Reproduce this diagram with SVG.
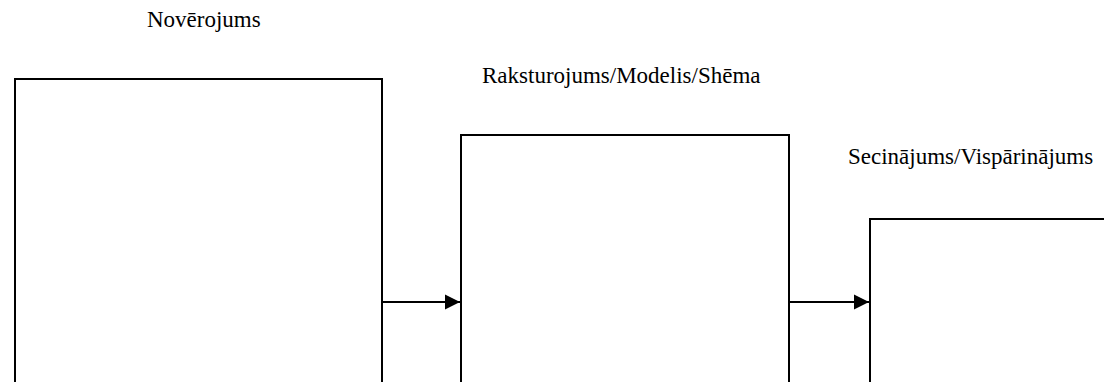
<svg xmlns="http://www.w3.org/2000/svg" width="1104" height="382" viewBox="0 0 1104 382">
  <style>
    .box { fill: #ffffff; stroke: #000000; stroke-width: 2; }
    .label { font-family: "Liberation Serif", "Times New Roman", serif; font-size: 23px; fill: #000000; }
    .link { fill: none; stroke: #000000; stroke-width: 2; }
  </style>
  <defs>
    <marker id="arrow" markerUnits="userSpaceOnUse" markerWidth="18" markerHeight="18" refX="16" refY="9" orient="auto">
      <path d="M1,1.5 L16,9 L1,16.5 Z" fill="#000000"/>
    </marker>
  </defs>
  <rect width="1104" height="382" fill="#ffffff"/>

  <g id="observation">
    <text class="label" x="147" y="27">Novērojums</text>
    <rect class="box" x="15" y="79" width="367" height="340"/>
  </g>

  <g id="model">
    <text class="label" x="482" y="83">Raksturojums/Modelis/Shēma</text>
    <rect class="box" x="461" y="135" width="328" height="300"/>
  </g>

  <g id="conclusion">
    <text class="label" x="848" y="164">Secinājums/Vispārinājums</text>
    <rect class="box" x="870" y="219" width="300" height="220"/>
  </g>

  <g id="connectors">
    <line class="link" x1="382" y1="302" x2="460" y2="302" marker-end="url(#arrow)"/>
    <line class="link" x1="789" y1="302" x2="869" y2="302" marker-end="url(#arrow)"/>
  </g>
</svg>
